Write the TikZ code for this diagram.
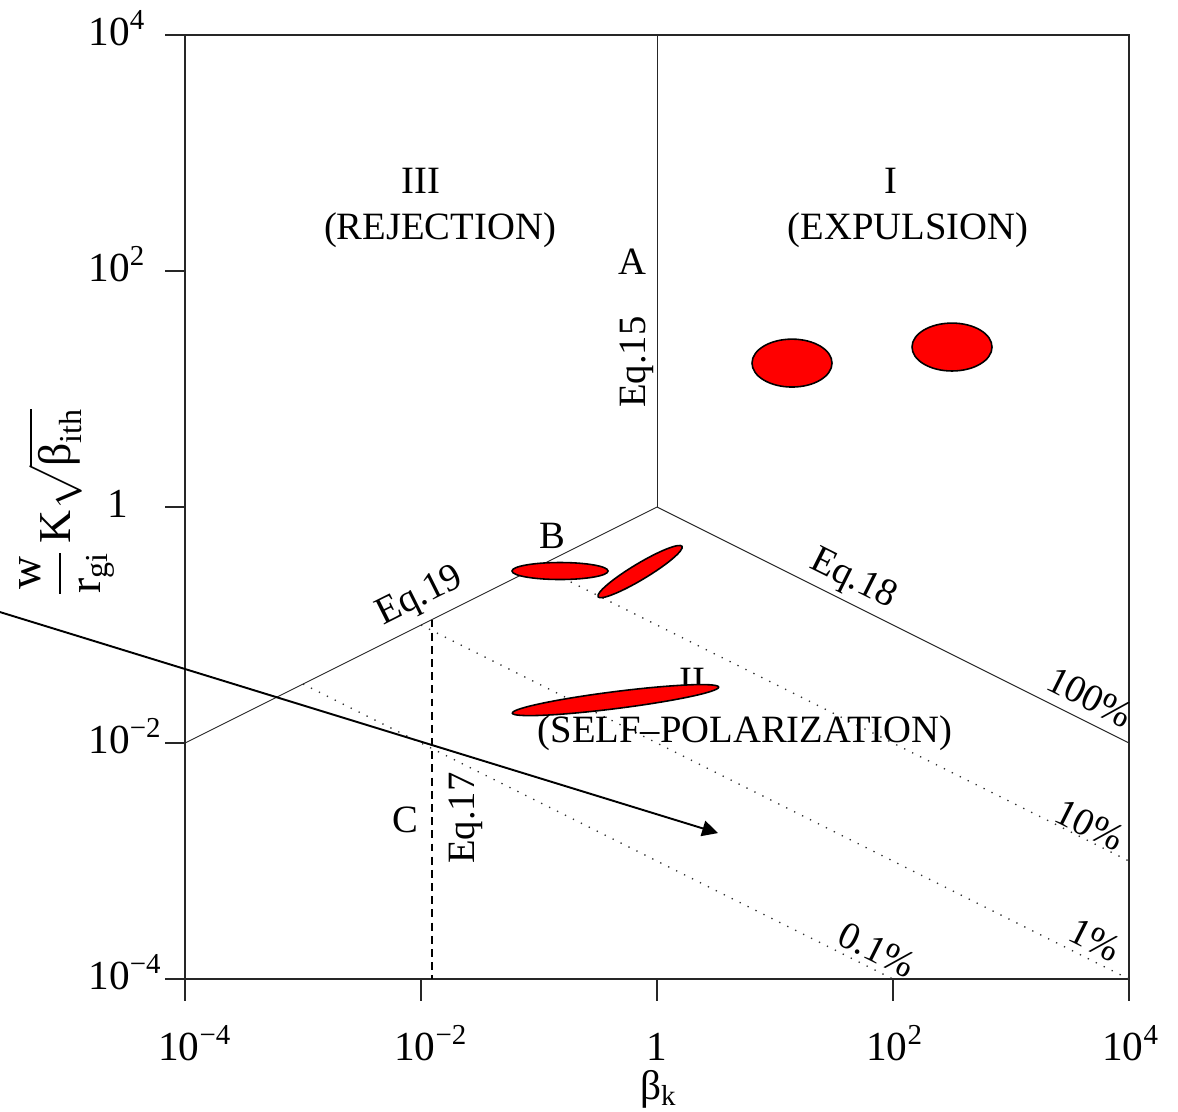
\documentclass[tikz,border=0pt]{standalone}
\usepackage{amsmath}
\usepackage{fontspec}
\setmainfont{Liberation Serif}
\usepackage{tikz}
\usetikzlibrary{arrows.meta}
\tikzset{
  frameline/.style={line width=0.8pt,color=black!85},
  eqline/.style={line width=0.55pt,color=black!85},
  dotline/.style={line width=0.75pt,dash pattern=on 0.75pt off 4.3pt,color=black!80},
  dashline/.style={line width=0.6pt,dash pattern=on 4.5pt off 3pt},
  blob/.style={fill=red,draw=black,line width=0.9pt},
  lbl/.style={font=\fontsize{22}{26}\selectfont,inner sep=0pt},
  ticklbl/.style={font=\fontsize{23.5}{27}\selectfont,inner sep=0pt},
  bigarr/.style={-{Triangle[length=9pt,width=9pt]},line width=1.1pt}
}
\newcommand{\tpow}[1]{10\textsuperscript{#1}}

\begin{document}
\begin{tikzpicture}[x=2.36cm,y=2.36cm]
  \useasboundingbox (-5.568,-5.119) rectangle (4.415,4.297);

  % frame and ticks
  \draw[frameline] (-4,-4) rectangle (4,4);
  \foreach \d in {-4,-2,0,2,4} {
    \draw[frameline] (-4,\d) -- ++(-0.169,0);
    \draw[frameline] (\d,-4) -- ++(0,-0.186);
  }

  % tick labels
  \node[ticklbl,anchor=base west] (y4) at (-4.82,3.915) {\tpow{4}};
  \node[ticklbl,anchor=base west] (y2) at (-4.82,1.915) {\tpow{2}};
  \node[ticklbl,anchor=base west] (y0) at (-4.660,-0.085) {1};
  \node[ticklbl,anchor=base west] (ym2) at (-4.82,-2.085) {\tpow{−2}};
  \node[ticklbl,anchor=base west] (ym4) at (-4.82,-4.085) {\tpow{−4}};
  \foreach \d/\t in {-4/−4,-2/−2,2/2,4/4}
    \node[ticklbl,anchor=base west] (x\d) at (\d-0.23,-4.69) {\tpow{\t}};
  \node[ticklbl,anchor=base] (x0) at (0,-4.69) {1};
  \node[ticklbl,anchor=base] (xlab) at (0.01,-5.02) {β\textsubscript{k}};
  \node[lbl,font=\fontsize{26}{30}\selectfont,rotate=90] (ylab) at (-5.0,0.04)
    {$\displaystyle\frac{\text{w}}{\text{r}_{\text{gi}}}\,\text{K}\sqrt{\text{β}_{\text{ith}}}$};

  % boundaries
  \coordinate (O) at (0,0);
  \coordinate (Atop) at (0,4);
  \coordinate (L19) at (-4,-2);
  \coordinate (R18) at (4,-2);
  \coordinate (C17t) at (-1.907,-0.953);
  \coordinate (C17b) at (-1.907,-4);
  \draw[eqline] (Atop) -- (O);
  \draw[eqline] (L19) -- (O) -- (R18);
  \draw[dashline] (C17t) -- (C17b);

  % efficiency lines
  \draw[dotline] (-1,-0.5) -- (4,-3);
  \draw[dotline] (-2,-1) -- (4,-4);
  \draw[dotline] (-3,-1.5) -- (2,-4);

  % region and line labels
  \node[lbl] (r3) at (-2.0,2.763) {III};
  \node[lbl] (r3t) at (-1.839,2.347) {(REJECTION)};
  \node[lbl] (r1) at (1.983,2.763) {I};
  \node[lbl] (r1t) at (2.127,2.347) {(EXPULSION)};
  \node[lbl] (r2) at (0.297,-1.475) {II};
  \node[lbl] (r2t) at (0.746,-1.915) {(SELF–POLARIZATION)};
  \node[lbl] (pA) at (-0.212,2.076) {A};
  \node[lbl] (pB) at (-0.890,-0.246) {B};
  \node[lbl] (pC) at (-2.136,-2.653) {C};
  \node[lbl,rotate=90] (e15) at (-0.169,1.229) {Eq.15};
  \node[lbl,rotate=90] (e17) at (-1.619,-2.636) {Eq.17};
  \node[lbl,rotate=26.57] (e19) at (-2.008,-0.763) {Eq.19};
  \node[lbl,rotate=-26.57] (e18) at (1.661,-0.619) {Eq.18};
  \node[lbl,rotate=-26.57] (p100) at (3.669,-1.610) {100\%};
  \node[lbl,rotate=-26.57] (p10) at (3.669,-2.695) {10\%};
  \node[lbl,rotate=-26.57] (p1) at (3.712,-3.669) {1\%};
  \node[lbl,rotate=-26.57] (p01) at (1.864,-3.754) {0.1\%};

  % experimental points
  \draw[blob] (1.144,1.220) ellipse [x radius=0.339,y radius=0.203];
  \draw[blob] (2.5,1.356) ellipse [x radius=0.339,y radius=0.203];
  \draw[blob] (-0.822,-0.542) ellipse [x radius=0.407,y radius=0.072];
  \draw[blob,rotate around={31:(-0.144,-0.547)}] (-0.144,-0.547) ellipse [x radius=0.415,y radius=0.068];
  \draw[blob,rotate around={7.2:(-0.352,-1.636)}] (-0.352,-1.636) ellipse [x radius=0.881,y radius=0.072];

  % trend arrow
  \coordinate (arrS) at (-5.568,-0.890);
  \coordinate (arrE) at (0.517,-2.763);
  \draw[bigarr] (arrS) -- (arrE);
\end{tikzpicture}
\end{document}
